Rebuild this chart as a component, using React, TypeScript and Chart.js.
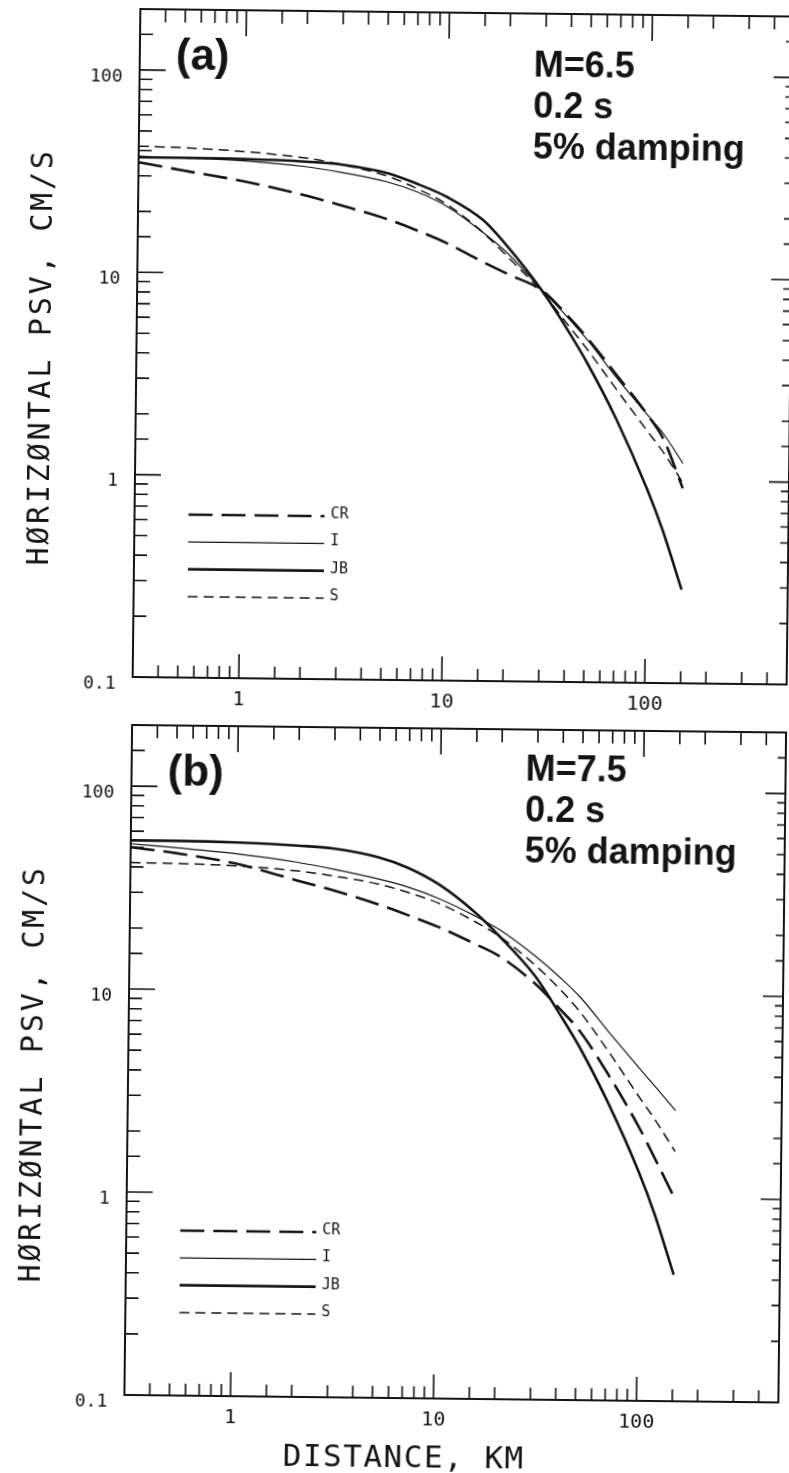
import React, { useEffect, useRef } from 'react';
import { Chart, registerables } from 'chart.js';

Chart.register(...registerables);

// ---------- data ----------
const distanceKm = [0.3, 0.5, 1, 2, 3, 5, 7, 10, 15, 20, 30, 40, 50, 70, 100, 120, 150];

// panel (a)  M = 6.5
const crA = [35, 32, 28.5, 24.5, 22, 19, 16.8, 14.5, 11.8, 10.3, 8.5, 6.4, 5.0, 3.3, 2.1, 1.6, 0.92];
const iA = [37.5, 37, 36, 34, 32, 29, 26, 22, 16.5, 13, 8.5, 6.3, 4.9, 3.2, 2.1, 1.7, 1.22];
const jbA = [37, 37, 36.8, 36, 35, 32, 28.5, 24.5, 19, 14, 8.4, 5.45, 3.77, 2.0, 0.91, 0.57, 0.29];
const sA = [42, 41.5, 40, 37.5, 35, 31, 27, 22.5, 16.5, 12.5, 8.3, 5.8, 4.4, 2.8, 1.75, 1.38, 0.98];

// panel (b)  M = 7.5
const crB = [50, 47, 42, 35, 31.5, 27, 24, 21, 17.5, 15.2, 11.2, 8.4, 6.6, 4.0, 2.2, 1.55, 1.0];
const iB = [52, 50, 47, 43, 40, 36, 33, 29, 24, 20.5, 15.3, 12, 9.7, 6.5, 4.3, 3.5, 2.7];
const jbB = [54, 54, 53.5, 52, 50.5, 46, 41, 34, 25, 19, 12.2, 7.9, 5.5, 2.9, 1.33, 0.83, 0.42];
const sB = [42, 41.8, 41, 39, 37, 34, 31, 27.5, 22.5, 19, 13.8, 10.5, 8.2, 5.2, 3.1, 2.4, 1.7];

const seriesNames = ['CR', 'I', 'JB', 'S'];
const xTickLabels = [1, 10, 100];
const yTickLabels = [0.1, 1, 10, 100];
const notesA = ['M=6.5', '0.2 s', '5% damping'];
const notesB = ['M=7.5', '0.2 s', '5% damping'];
const yTitle = 'HØRIZØNTAL PSV, CM/S';
const xTitle = 'DISTANCE, KM';

// ---------- styles ----------
const INK = '#141414';
const MONO = "'DejaVu Sans Mono', monospace";
const SANS = "'Liberation Sans', Arial, sans-serif";
const LINE_STYLES = [
  { width: 2.6, dash: [24, 9] },
  { width: 1.2, dash: [] as number[] },
  { width: 2.6, dash: [] as number[] },
  { width: 1.5, dash: [10, 6] },
];

function isDecade(v: number) {
  const l = Math.log10(v);
  return Math.abs(l - Math.round(l)) < 1e-6;
}
function pick(list: number[], v: number) {
  const hit = list.find((l) => Math.abs(l - v) / l < 1e-6);
  return hit === undefined ? '' : String(hit);
}
function noPad(s: any) {
  s.paddingTop = 0;
  s.paddingBottom = 0;
  s.paddingLeft = 0;
  s.paddingRight = 0;
}

const frameTicks = {
  id: 'frameTicks',
  afterDatasetsDraw(chart: any) {
    const { ctx, chartArea: a } = chart;
    const xs = chart.scales.x;
    const ys = chart.scales.y;
    ctx.save();
    ctx.strokeStyle = INK;
    ctx.lineWidth = 2;
    ctx.strokeRect(a.left, a.top, a.right - a.left, a.bottom - a.top);
    ctx.lineWidth = 1.6;
    ctx.beginPath();
    for (const t of xs.ticks) {
      const p = xs.getPixelForValue(t.value);
      if (p <= a.left + 2 || p >= a.right - 2) continue;
      const major = isDecade(t.value);
      ctx.moveTo(p, a.bottom);
      ctx.lineTo(p, a.bottom - (major ? 24 : 12));
      ctx.moveTo(p, a.top);
      ctx.lineTo(p, a.top + (major ? 26 : 13));
    }
    for (const t of ys.ticks) {
      const p = ys.getPixelForValue(t.value);
      if (p <= a.top + 2 || p >= a.bottom - 2) continue;
      const major = isDecade(t.value);
      ctx.moveTo(a.left, p);
      ctx.lineTo(a.left + (major ? 26 : 13), p);
      ctx.moveTo(a.right, p);
      ctx.lineTo(a.right - (major ? 20 : 8), p);
    }
    ctx.stroke();
    ctx.restore();
  },
};

type PanelProps = {
  top: number;
  height: number;
  axisHeight: number;
  tag: string;
  notes: string[];
  notesDy: number;
  series: number[][];
  showXTitle: boolean;
};

function Panel(props: PanelProps) {
  const ref = useRef<HTMLCanvasElement | null>(null);
  useEffect(() => {
    const canvas = ref.current;
    if (!canvas) return;
    const annotations = {
      id: 'annotations',
      afterDraw(chart: any) {
        const { ctx, chartArea: a } = chart;
        ctx.save();
        ctx.fillStyle = INK;
        ctx.strokeStyle = INK;
        ctx.textAlign = 'left';
        ctx.textBaseline = 'alphabetic';
        ctx.font = `bold 44px ${SANS}`;
        ctx.fillText(props.tag, a.left + 36, a.top + 60);
        ctx.font = `bold 36px ${SANS}`;
        props.notes.forEach((n, i) =>
          ctx.fillText(n, a.left + 394, a.top + 63 + props.notesDy + i * 41)
        );
        chart.data.datasets.forEach((ds: any, i: number) => {
          const y = a.top + 505 + i * 27.3;
          ctx.save();
          ctx.lineWidth = ds.borderWidth;
          ctx.setLineDash(ds.borderDash || []);
          ctx.beginPath();
          ctx.moveTo(a.left + 54, y);
          ctx.lineTo(a.left + 190, y);
          ctx.stroke();
          ctx.restore();
          ctx.font = `15px ${MONO}`;
          ctx.fillText(ds.label, a.left + 196, y + 2);
        });
        ctx.save();
        ctx.font = `30px ${MONO}`;
        (ctx as any).letterSpacing = '2.8px';
        ctx.translate(a.left - 94, (a.top + a.bottom) / 2 + 15);
        ctx.rotate(-Math.PI / 2);
        ctx.textAlign = 'center';
        ctx.textBaseline = 'middle';
        ctx.fillText(yTitle, 0, 0);
        ctx.restore();
        if (props.showXTitle) {
          ctx.save();
          ctx.font = `31px ${MONO}`;
          (ctx as any).letterSpacing = '1.5px';
          ctx.textAlign = 'center';
          ctx.textBaseline = 'alphabetic';
          ctx.fillText(xTitle, a.left + 280, a.bottom + 69);
          ctx.restore();
        }
        ctx.restore();
      },
    };
    const chart = new Chart(canvas, {
      type: 'line',
      data: {
        datasets: seriesNames.map((name, i) => ({
          label: name,
          data: distanceKm.map((d, j) => ({ x: d, y: props.series[i][j] })),
          borderColor: INK,
          borderWidth: LINE_STYLES[i].width,
          borderDash: LINE_STYLES[i].dash,
          pointRadius: 0,
          fill: false,
          cubicInterpolationMode: 'monotone' as const,
        })),
      },
      options: {
        responsive: false,
        animation: false,
        devicePixelRatio: 1,
        layout: { padding: { left: 0, right: 3, top: 12, bottom: 0 } },
        plugins: { legend: { display: false }, tooltip: { enabled: false } },
        scales: {
          x: {
            type: 'logarithmic',
            min: 0.3,
            max: 500,
            grid: { display: false, drawTicks: false },
            border: { display: false },
            ticks: {
              autoSkip: false,
              maxRotation: 0,
              padding: 10,
              color: INK,
              font: { family: MONO, size: 20 },
              callback: (v: any) => pick(xTickLabels, Number(v)),
            },
            afterFit: (s: any) => {
              s.height = props.axisHeight;
              noPad(s);
            },
          },
          y: {
            type: 'logarithmic',
            min: 0.1,
            max: 200,
            grid: { display: false, drawTicks: false },
            border: { display: false },
            ticks: {
              autoSkip: false,
              padding: 17,
              labelOffset: 7,
              color: INK,
              font: { family: MONO, size: 18 },
              callback: (v: any) => pick(yTickLabels, Number(v)),
            },
            afterFit: (s: any) => {
              s.width = 132;
              noPad(s);
            },
          },
        },
      } as any,
      plugins: [frameTicks, annotations],
    });
    return () => chart.destroy();
  }, []);
  return (
    <canvas
      ref={ref}
      width={789}
      height={props.height}
      style={{ position: 'absolute', left: 0, top: props.top, width: 789, height: props.height }}
    />
  );
}

export default function App() {
  return (
    <div
      style={{
        position: 'absolute',
        left: 0,
        top: 0,
        width: 789,
        height: 1473,
        background: '#fff',
        transform: 'rotate(0.66deg)',
        transformOrigin: '394px 736px',
      }}
    >
      <Panel top={0} height={716} axisHeight={36} tag="(a)" notes={notesA} notesDy={0} series={[crA, iA, jbA, sA]} showXTitle={false} />
      <Panel top={716} height={757} axisHeight={75} tag="(b)" notes={notesB} notesDy={-12} series={[crB, iB, jbB, sB]} showXTitle={true} />
    </div>
  );
}
